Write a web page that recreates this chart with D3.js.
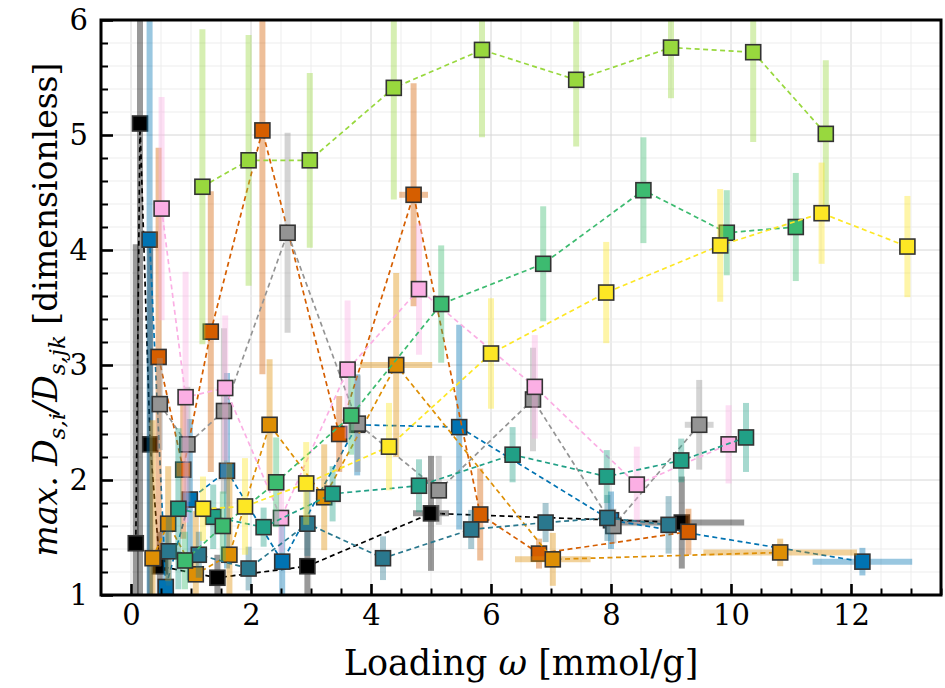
<!DOCTYPE html>
<html>
<head>
<meta charset="utf-8">
<script src="https://cdn.jsdelivr.net/npm/d3@7"></script>
<style>
  body { margin: 0; background: #fff; }
  svg { display: block; }
</style>
</head>
<body>
<svg id="chart" width="945" height="688"></svg>
<script>
// ---- axis ticks ----
const xTickLabels = [0, 2, 4, 6, 8, 10, 12];
const yTickLabels = [1, 2, 3, 4, 5, 6];

// ---- series data: loading (x), max ratio (y), y error, x error ----
const xBlack = [0.08, 0.15, 0.32, 0.48, 1.44, 2.94, 5.0, 9.18];
const yBlack = [1.45, 5.10, 2.31, 1.25, 1.15, 1.25, 1.71, 1.63];
const eBlack = [2.6, 4.2, 1.8, 0.3, 0.2, 0.3, 0.5, 0.4];
const xeBlack = [0, 0, 0, 0, 0, 0, 0.3, 1.04];

const xBlue = [0.31, 0.58, 0.98, 1.6, 2.52, 3.77, 5.47, 8.0, 12.19];
const yBlue = [4.09, 1.07, 1.83, 2.08, 1.29, 2.48, 2.46, 1.65, 1.29];
const eBlue = [4.0, 0.5, 0.7, 0.85, 0.33, 0.44, 0.89, 0.25, 0.12];
const xeBlue = [0, 0, 0, 0, 0, 0, 0, 0, 0.83];

const xVermillion = [0.46, 0.87, 1.33, 2.19, 3.47, 4.71, 5.82, 6.8, 9.29];
const yVermillion = [3.07, 2.09, 3.29, 5.04, 2.40, 4.48, 1.70, 1.36, 1.55];
const eVermillion = [1.82, 0.6, 1.22, 2.12, 0.33, 0.97, 0.4, 0.13, 0.2];
const xeVermillion = [0, 0, 0, 0, 0, 0.24, 0, 0, 0];

const xOrange = [0.36, 0.62, 1.08, 1.64, 2.31, 3.22, 4.42, 7.03, 10.82];
const yOrange = [1.32, 1.62, 1.18, 1.35, 2.48, 1.85, 3.00, 1.31, 1.37];
const eOrange = [1.2, 0.5, 0.55, 0.8, 0.57, 0.46, 0.8, 0.23, 0.12];
const xeOrange = [0, 0, 0, 0, 0, 0, 0.6, 0.63, 1.28];

const xGray = [0.48, 0.94, 1.55, 2.61, 3.78, 5.13, 6.7, 8.04, 9.47];
const yGray = [2.66, 2.31, 2.60, 4.15, 2.49, 1.91, 2.70, 1.60, 2.48];
const eGray = [0.4, 0.5, 0.72, 0.87, 0.42, 0.3, 0.45, 0.15, 0.39];
const xeGray = [0, 0, 0, 0, 0, 0, 0, 0, 0.24];

const xPink = [0.51, 0.91, 1.57, 2.5, 3.61, 4.8, 6.73, 8.43, 9.96];
const yPink = [4.36, 2.72, 2.80, 1.67, 2.96, 3.66, 2.81, 1.96, 2.31];
const ePink = [0.97, 1.09, 0.63, 0.3, 0.6, 0.57, 0.45, 0.33, 0.34];

const xDarkTeal = [0.63, 1.13, 1.96, 2.94, 4.2, 5.67, 6.91, 7.94, 8.96];
const yDarkTeal = [1.38, 1.35, 1.23, 1.62, 1.32, 1.57, 1.63, 1.67, 1.61];
const eDarkTeal = [0.3, 0.2, 0.19, 0.28, 0.19, 0.17, 0.17, 0.2, 0.25];

const xTeal = [0.79, 1.37, 2.21, 3.36, 4.8, 6.36, 7.93, 9.17, 10.25];
const yTeal = [1.75, 1.68, 1.59, 1.88, 1.95, 2.22, 2.03, 2.17, 2.37];
const eTeal = [0.7, 0.28, 0.17, 0.24, 0.23, 0.24, 0.23, 0.19, 0.3];

const xGreen = [0.9, 1.53, 2.42, 3.67, 5.17, 6.87, 8.54, 9.93, 11.08];
const yGreen = [1.30, 1.60, 1.98, 2.56, 3.53, 3.88, 4.52, 4.15, 4.20];
const eGreen = [0.25, 0.3, 0.39, 0.34, 0.51, 0.5, 0.46, 0.37, 0.47];

const xLime = [1.19, 1.96, 2.98, 4.38, 5.85, 7.42, 9.0, 10.37, 11.58];
const yLime = [4.55, 4.78, 4.78, 5.41, 5.74, 5.48, 5.76, 5.72, 5.01];
const eLime = [1.37, 1.09, 0.76, 0.97, 0.76, 0.58, 0.44, 0.78, 0.64];

const xYellow = [1.2, 1.9, 2.92, 4.3, 6.0, 7.92, 9.82, 11.51, 12.94];
const yYellow = [1.75, 1.77, 1.97, 2.29, 3.10, 3.63, 4.04, 4.32, 4.03];
const eYellow = [0.28, 0.42, 0.36, 0.38, 0.48, 0.44, 0.49, 0.44, 0.44];

// drawing order: later series sit on top
const seriesTable = [
  { color: "#000000", xs: xBlack, ys: yBlack, ye: eBlack, xe: xeBlack },
  { color: "#0173b2", xs: xBlue, ys: yBlue, ye: eBlue, xe: xeBlue },
  { color: "#d55e00", xs: xVermillion, ys: yVermillion, ye: eVermillion, xe: xeVermillion },
  { color: "#de8f05", xs: xOrange, ys: yOrange, ye: eOrange, xe: xeOrange },
  { color: "#949494", xs: xGray, ys: yGray, ye: eGray, xe: xeGray },
  { color: "#fbafe4", xs: xPink, ys: yPink, ye: ePink, xe: null },
  { color: "#2a788e", xs: xDarkTeal, ys: yDarkTeal, ye: eDarkTeal, xe: null },
  { color: "#21a086", xs: xTeal, ys: yTeal, ye: eTeal, xe: null },
  { color: "#3dbb70", xs: xGreen, ys: yGreen, ye: eGreen, xe: null },
  { color: "#98d83e", xs: xLime, ys: yLime, ye: eLime, xe: null },
  { color: "#fde725", xs: xYellow, ys: yYellow, ye: eYellow, xe: null }
];

// ---- layout ----
const svg = d3.select("#chart");
const box = { left: 101, right: 941, top: 20, bottom: 595 };
const x = d3.scaleLinear().domain([-0.5, 13.5]).range([box.left, box.right]);
const y = d3.scaleLinear().domain([1, 6]).range([box.bottom, box.top]);
const FONT = "DejaVu Serif, serif";

svg.append("defs").append("clipPath").attr("id", "plotClip")
  .append("rect")
  .attr("x", box.left).attr("y", box.top)
  .attr("width", box.right - box.left).attr("height", box.bottom - box.top);

// ---- grid ----
const xMinor = d3.range(-0.5, 13.51, 0.5);
const yMinor = d3.range(1, 6.001, 0.2).map(v => +v.toFixed(2));
const isMajorX = v => Math.abs(v / 2 - Math.round(v / 2)) < 1e-6;
const isMajorY = v => Math.abs(v - Math.round(v)) < 1e-6;

const grid = svg.append("g");
grid.selectAll("line.gx").data(xMinor).join("line")
  .attr("x1", d => x(d)).attr("x2", d => x(d))
  .attr("y1", box.top).attr("y2", box.bottom)
  .attr("stroke", d => isMajorX(d) ? "#d6d6d6" : "#ededed")
  .attr("stroke-width", 1);
grid.selectAll("line.gy").data(yMinor).join("line")
  .attr("y1", d => y(d)).attr("y2", d => y(d))
  .attr("x1", box.left).attr("x2", box.right)
  .attr("stroke", d => isMajorY(d) ? "#d6d6d6" : "#ededed")
  .attr("stroke-width", 1);

// ---- series ----
const plot = svg.append("g").attr("clip-path", "url(#plotClip)");
const SQ = 15;
const lineGen = d3.line().x(d => x(d.x)).y(d => y(d.y));

seriesTable.forEach(s => {
  const pts = s.xs.map((xv, i) => ({ x: xv, y: s.ys[i], ye: s.ye[i], xe: s.xe ? s.xe[i] : 0 }));
  const g = plot.append("g");
  // error bars
  g.selectAll("line.ey").data(pts).join("line")
    .attr("x1", d => x(d.x)).attr("x2", d => x(d.x))
    .attr("y1", d => y(d.y - d.ye)).attr("y2", d => y(d.y + d.ye))
    .attr("stroke", s.color).attr("stroke-opacity", 0.4).attr("stroke-width", 6);
  g.selectAll("line.ex").data(pts.filter(d => d.xe > 0)).join("line")
    .attr("y1", d => y(d.y)).attr("y2", d => y(d.y))
    .attr("x1", d => x(d.x - d.xe)).attr("x2", d => x(d.x + d.xe))
    .attr("stroke", s.color).attr("stroke-opacity", 0.4).attr("stroke-width", 6);
  // connecting dashed line
  g.append("path").datum(pts)
    .attr("d", lineGen)
    .attr("fill", "none").attr("stroke", s.color)
    .attr("stroke-width", 1.7).attr("stroke-dasharray", "5,3.5");
  // square markers
  g.selectAll("rect").data(pts).join("rect")
    .attr("x", d => x(d.x) - SQ / 2).attr("y", d => y(d.y) - SQ / 2)
    .attr("width", SQ).attr("height", SQ)
    .attr("fill", s.color).attr("stroke", "#333").attr("stroke-width", 1.6);
});

// ---- axes (inward ticks) ----
const xAxisMajor = d3.axisBottom(x).tickValues(xTickLabels).tickSize(-11).tickPadding(9).tickFormat(d3.format("d"));
const xAxisMinor = d3.axisBottom(x).tickValues(xMinor.filter(v => v > -0.5 && !isMajorX(v))).tickSize(-6.5).tickFormat("");
const yAxisMajor = d3.axisLeft(y).tickValues(yTickLabels).tickSize(-12).tickPadding(13).tickFormat(d3.format("d"));
const yAxisMinor = d3.axisLeft(y).tickValues(yMinor.filter(v => !isMajorY(v))).tickSize(-7).tickFormat("");

function styleAxis(sel, width) {
  sel.select(".domain").remove();
  sel.selectAll(".tick line").attr("stroke", "#000").attr("stroke-width", width);
  sel.selectAll(".tick text").attr("font-family", FONT).attr("font-size", 29).attr("fill", "#000");
}
svg.append("g").attr("transform", `translate(0,${box.bottom})`).call(xAxisMinor).call(s => styleAxis(s, 2));
svg.append("g").attr("transform", `translate(0,${box.bottom})`).call(xAxisMajor).call(s => styleAxis(s, 2.6));
svg.append("g").attr("transform", `translate(${box.left},0)`).call(yAxisMinor).call(s => styleAxis(s, 2));
svg.append("g").attr("transform", `translate(${box.left},0)`).call(yAxisMajor).call(s => styleAxis(s, 2.6));

// frame
svg.append("rect")
  .attr("x", box.left).attr("y", box.top)
  .attr("width", box.right - box.left).attr("height", box.bottom - box.top)
  .attr("fill", "none").attr("stroke", "#000").attr("stroke-width", 3);

// ---- axis titles ----
svg.append("text")
  .attr("x", (box.left + box.right) / 2).attr("y", 675)
  .attr("text-anchor", "middle")
  .attr("font-family", FONT).attr("font-size", 35)
  .call(t => {
    t.append("tspan").text("Loading ");
    t.append("tspan").attr("font-style", "italic").text("ω");
    t.append("tspan").text(" [mmol/g]");
  });

const yTitle = svg.append("text")
  .attr("transform", `translate(57,${(box.top + box.bottom) / 2 + 2}) rotate(-90)`)
  .attr("text-anchor", "middle")
  .attr("font-family", FONT).attr("font-size", 33);
yTitle.append("tspan").attr("font-style", "italic").text("max. D");
yTitle.append("tspan").attr("font-style", "italic").attr("font-size", 23).attr("dy", 8).text("s,i");
yTitle.append("tspan").attr("font-style", "italic").attr("dy", -8).text("/D");
yTitle.append("tspan").attr("font-style", "italic").attr("font-size", 23).attr("dy", 8).text("s,jk");
yTitle.append("tspan").attr("dy", -8).text(" [dimensionless]");
</script>
</body>
</html>
